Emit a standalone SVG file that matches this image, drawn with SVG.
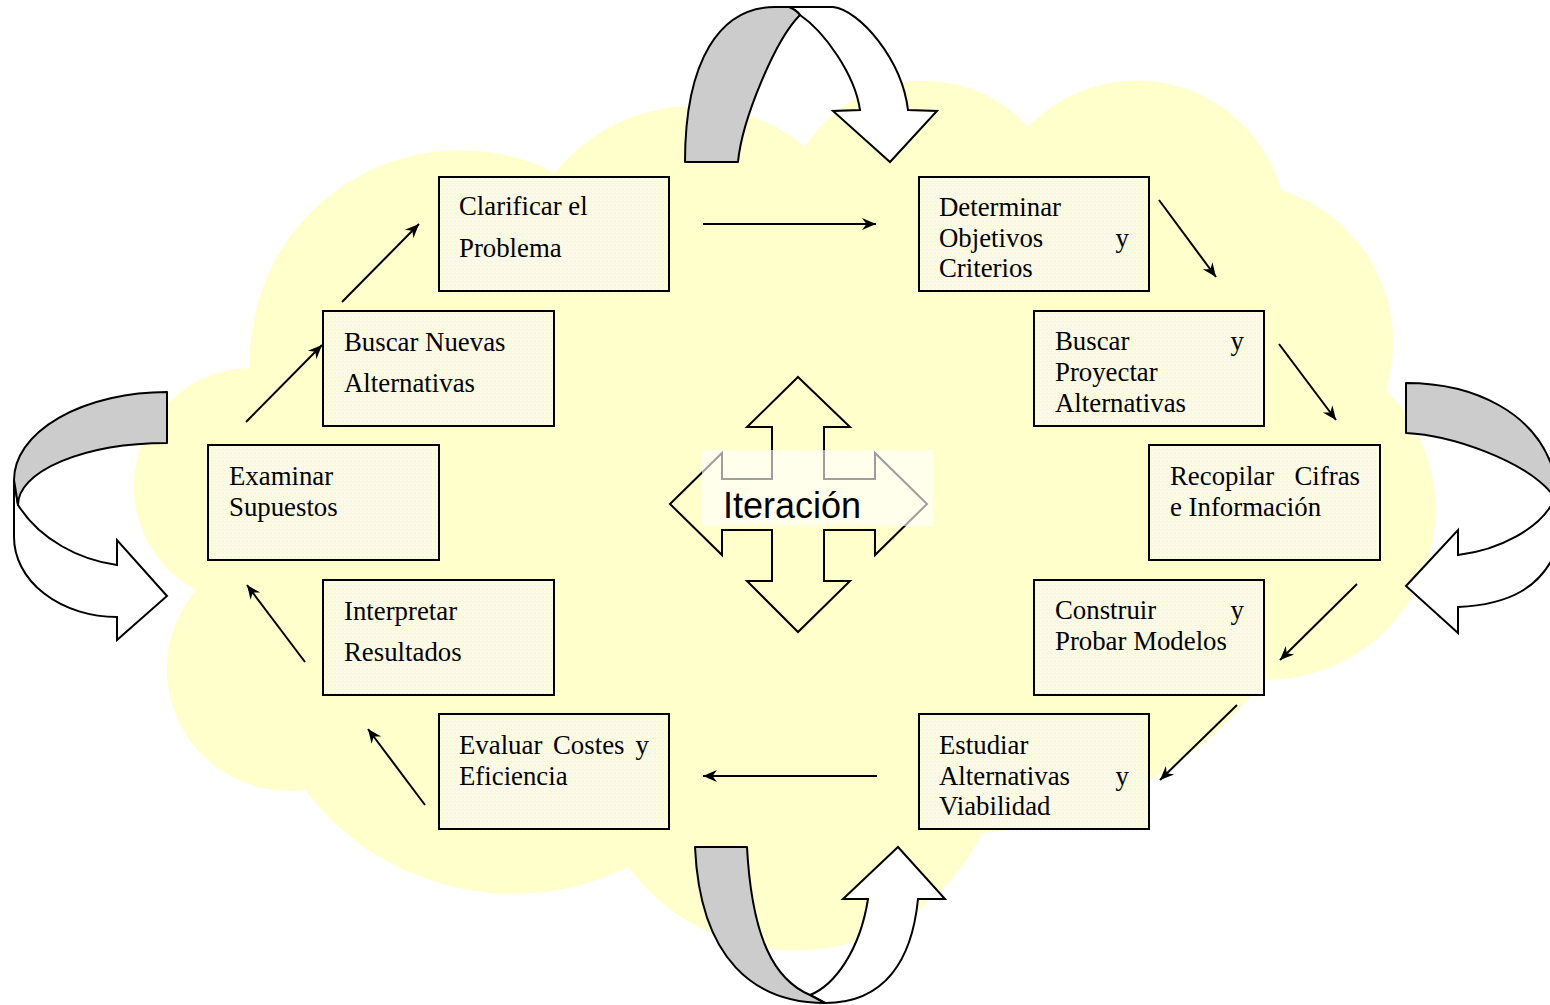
<svg xmlns="http://www.w3.org/2000/svg" width="1550" height="1005" viewBox="0 0 1550 1005">
<defs>
<pattern id="tex" width="4" height="4" patternUnits="userSpaceOnUse">
<rect width="4" height="4" fill="#FBFBDB"/>
<rect x="0" y="0" width="1" height="1" fill="#FFFFF2"/>
<rect x="2" y="2" width="1" height="1" fill="#FFFFF2"/>
<rect x="3" y="1" width="1" height="1" fill="#F5F5D0"/>
</pattern>
<marker id="ah" viewBox="-15 -7 16 14" refX="0" refY="0" markerWidth="16" markerHeight="14" markerUnits="userSpaceOnUse" orient="auto">
<path d="M0,0 L-14,-6 L-9.5,0 L-14,6 Z" fill="#000"/>
</marker>
<style>
.box{fill:url(#tex);stroke:#000;stroke-width:2}
.t{font-family:"Liberation Serif","Times New Roman",serif;font-size:26.8px;fill:#000}
.conn{stroke:#000;stroke-width:2;fill:none;marker-end:url(#ah)}
.gray{fill:#CCCCCC;stroke:#000;stroke-width:2;stroke-linejoin:round}
.wht{fill:#FFFFFF;stroke:#000;stroke-width:2;stroke-linejoin:miter}
</style>
</defs>

<g id="cloud">
<path d="M250,368 A210,210 0 0 1 555,173 A175,175 0 0 1 805,147 A140,140 0 0 1 1028,127 A150,150 0 0 1 1281,190 A160,160 0 0 1 1386,390 A170,170 0 0 1 1264,680 A395,395 0 0 1 982,833 A208,208 0 0 1 628,867 A260,260 0 0 1 305,790 A122,122 0 0 1 196,590 A118,118 0 0 1 250,368 Z" fill="#FFFFCC"/>
</g>

<g id="loop-top">
<path class="wht" d="M789,7 L833,7 C860,10 902,60 908,110 L937,111 L890,162 L833,111 L860,110 C855,75 825,32 800,15 C797,11 794,9 789,7 Z"/>
<path class="gray" d="M685,162 C685,60 720,7 775,7 L789,7 C794,9 797,11 800,15 C775,40 742,120 738,162 Z"/>
</g>
<g id="loop-bottom">
<path class="wht" d="M810,995 L825,1003 C885,1003 912,960 918,899 L945,899 L898,847 L843,899 L868,899 C860,950 835,985 810,995 Z"/>
<path class="gray" d="M695,847 L747,847 C752,940 775,980 810,995 L825,1003 C755,1003 700,960 695,847 Z"/>
</g>
<g id="loop-left">
<path class="wht" d="M14,480 L14,537 A103,80 0 0 0 117,617 L117,640 L167,596 L117,540 L117,565 C80,560 40,540 18,505 Z"/>
<path class="gray" d="M167,392 A153,88 0 0 0 14,480 L18,505 A149,62 0 0 1 167,443 Z"/>
</g>
<g id="loop-right">
<path class="wht" d="M1553,495 L1553,502 C1540,528 1500,550 1458,555 L1458,530 L1406,586 L1458,633 L1458,607 C1505,605 1545,590 1560,540 L1562,470 Z"/>
<path class="gray" d="M1406,383 C1470,383 1540,410 1556,480 L1553,495 C1525,460 1450,435 1406,433 Z"/>
</g>

<g id="connectors">
<line class="conn" x1="703" y1="224" x2="876" y2="224"/>
<line class="conn" x1="1159" y1="200" x2="1216" y2="277"/>
<line class="conn" x1="1279" y1="344" x2="1336" y2="420"/>
<line class="conn" x1="1357" y1="584" x2="1280" y2="660"/>
<line class="conn" x1="1237" y1="705" x2="1160" y2="780"/>
<line class="conn" x1="877" y1="776" x2="703" y2="776"/>
<line class="conn" x1="425" y1="805" x2="368" y2="729"/>
<line class="conn" x1="305" y1="662" x2="247" y2="585"/>
<line class="conn" x1="246" y1="422" x2="322" y2="345"/>
<line class="conn" x1="342" y1="302" x2="419" y2="224"/>
</g>

<g id="n-clarificar">
<rect class="box" x="439" y="177" width="230" height="114"/>
<text class="t" x="459" y="215">Clarificar el</text>
<text class="t" x="459" y="257">Problema</text>
</g>
<g id="n-determinar">
<rect class="box" x="919" y="177" width="230" height="114"/>
<text class="t" x="939" y="216">Determinar</text>
<text class="t" x="939" y="247">Objetivos</text>
<text class="t" x="1129" y="247" text-anchor="end">y</text>
<text class="t" x="939" y="277">Criterios</text>
</g>
<g id="n-buscar-proyectar">
<rect class="box" x="1034" y="311" width="230" height="115"/>
<text class="t" x="1055" y="350">Buscar</text>
<text class="t" x="1244" y="350" text-anchor="end">y</text>
<text class="t" x="1055" y="381">Proyectar</text>
<text class="t" x="1055" y="412">Alternativas</text>
</g>
<g id="n-recopilar">
<rect class="box" x="1149" y="445" width="231" height="115"/>
<text class="t" x="1170" y="485">Recopilar</text>
<text class="t" x="1360" y="485" text-anchor="end">Cifras</text>
<text class="t" x="1170" y="516">e Información</text>
</g>
<g id="n-construir">
<rect class="box" x="1034" y="580" width="230" height="115"/>
<text class="t" x="1055" y="619">Construir</text>
<text class="t" x="1244" y="619" text-anchor="end">y</text>
<text class="t" x="1055" y="650">Probar Modelos</text>
</g>
<g id="n-estudiar">
<rect class="box" x="919" y="714" width="230" height="115"/>
<text class="t" x="939" y="754">Estudiar</text>
<text class="t" x="939" y="785">Alternativas</text>
<text class="t" x="1129" y="785" text-anchor="end">y</text>
<text class="t" x="939" y="815">Viabilidad</text>
</g>
<g id="n-evaluar">
<rect class="box" x="439" y="714" width="230" height="115"/>
<text class="t" x="459" y="754">Evaluar</text>
<text class="t" x="553" y="754">Costes</text>
<text class="t" x="649" y="754" text-anchor="end">y</text>
<text class="t" x="459" y="785">Eficiencia</text>
</g>
<g id="n-interpretar">
<rect class="box" x="323" y="580" width="231" height="115"/>
<text class="t" x="344" y="620">Interpretar</text>
<text class="t" x="344" y="661">Resultados</text>
</g>
<g id="n-examinar">
<rect class="box" x="208" y="445" width="231" height="115"/>
<text class="t" x="229" y="485">Examinar</text>
<text class="t" x="229" y="516">Supuestos</text>
</g>
<g id="n-buscar-nuevas">
<rect class="box" x="323" y="311" width="231" height="115"/>
<text class="t" x="344" y="351">Buscar Nuevas</text>
<text class="t" x="344" y="392">Alternativas</text>
</g>

<g id="n-iteracion">
<polygon points="798,377 850,427 824,427 824,479 875,479 875,453 927,504 875,555 875,530 824,530 824,581 850,581 798,632 747,581 772,581 772,530 722,530 722,555 670,504 722,453 722,479 772,479 772,427 747,427" fill="#FFFFCC" stroke="#000" stroke-width="2" stroke-linejoin="miter"/>
<rect x="702" y="450" width="231" height="76" fill="#FFFFFF" fill-opacity="0.62"/>
<text x="723" y="518" font-family="'Liberation Sans',Arial,sans-serif" font-size="36" fill="#000">Iteración</text>
</g>
</svg>
